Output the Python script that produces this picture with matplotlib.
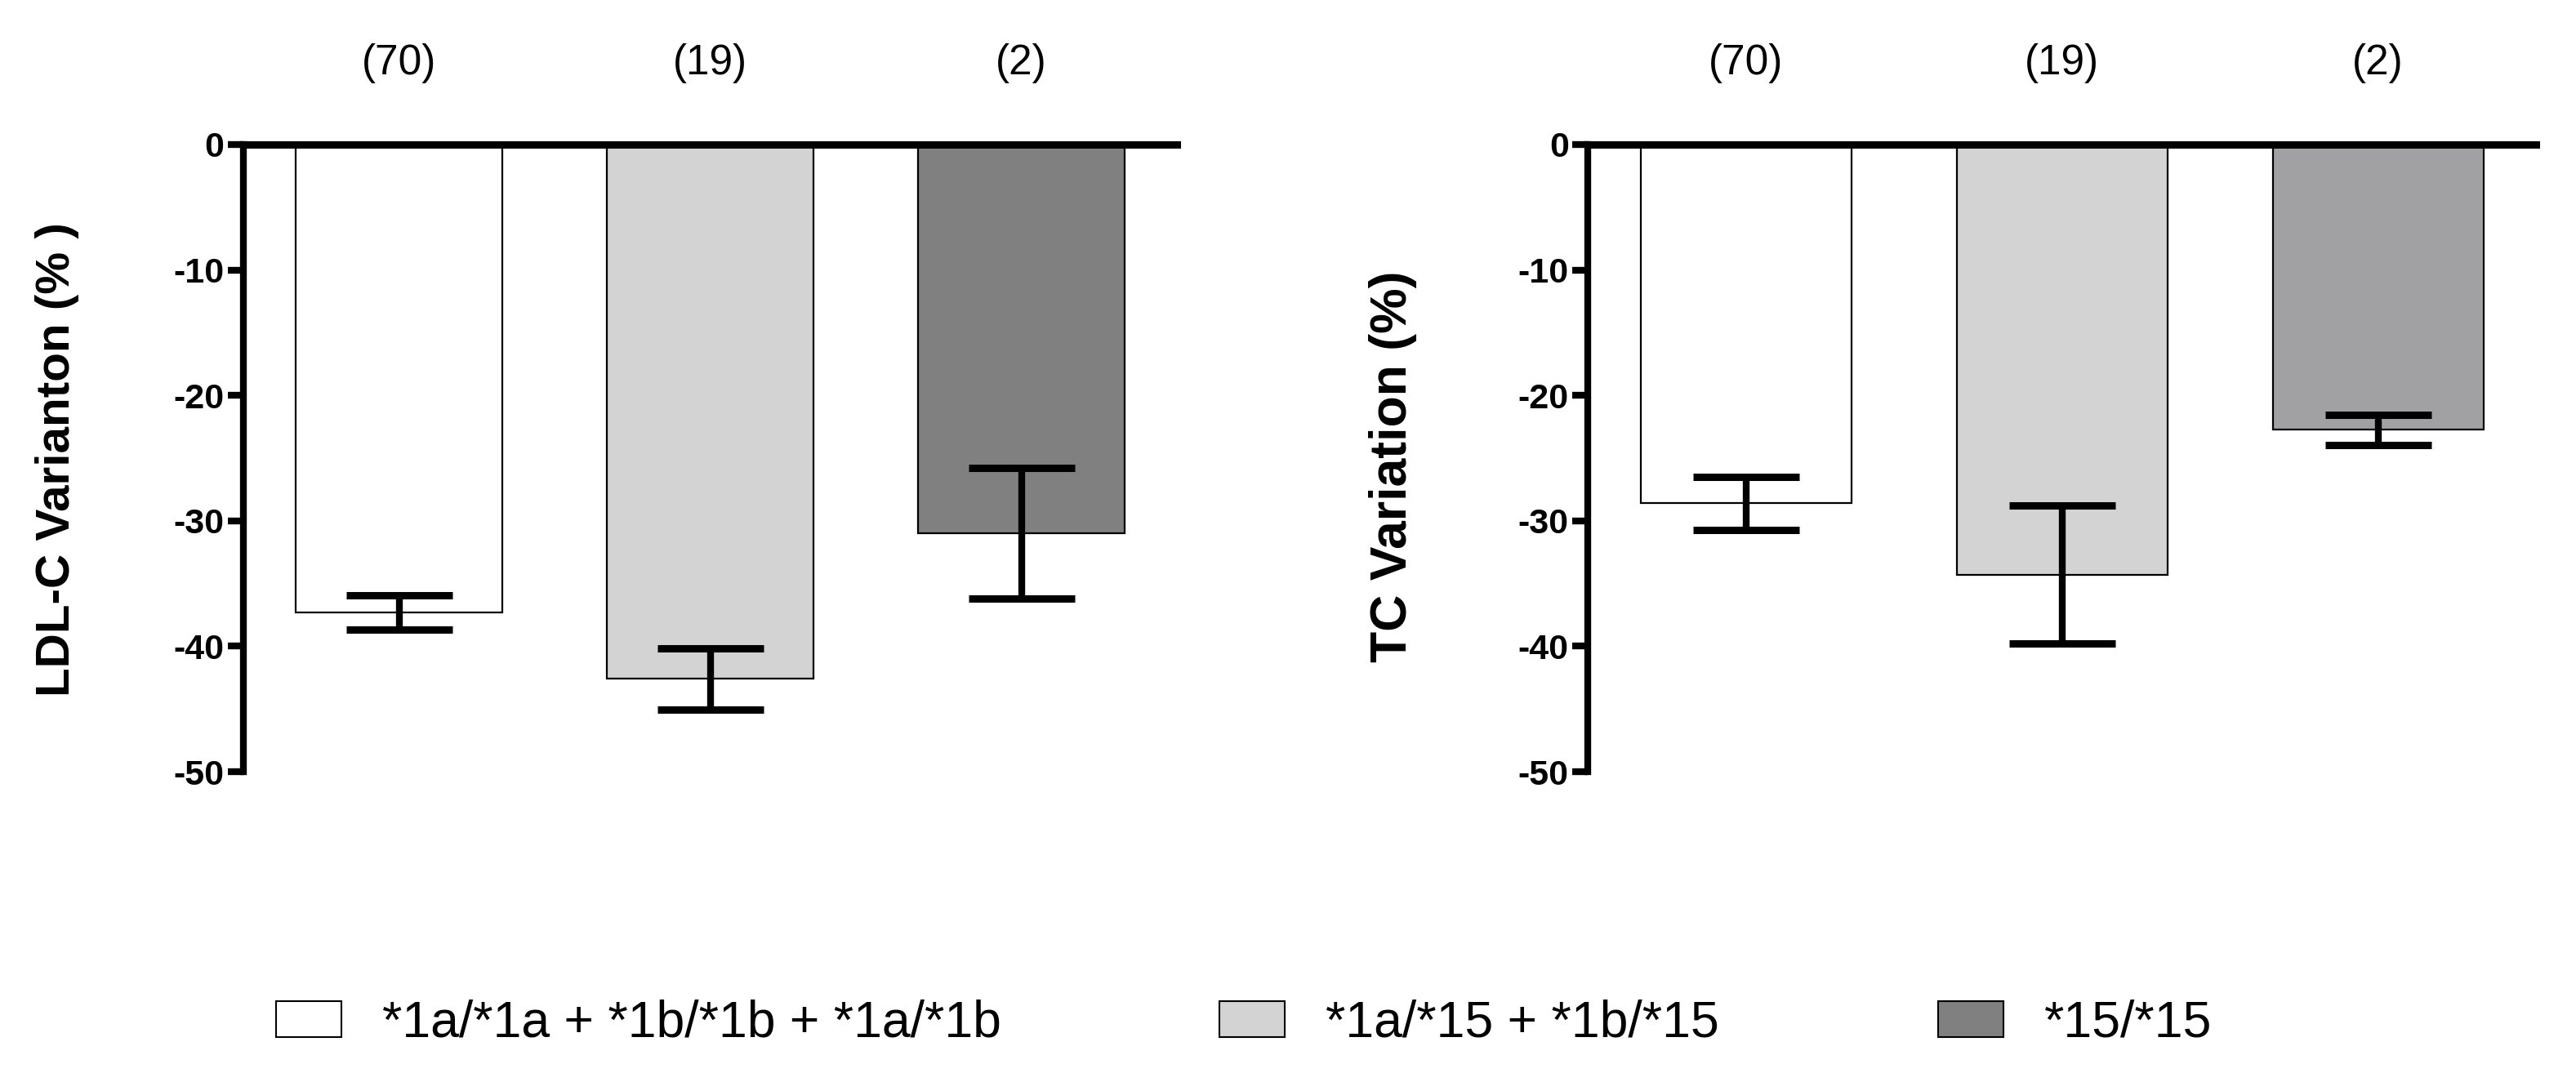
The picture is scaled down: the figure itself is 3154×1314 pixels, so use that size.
"""Bar charts of LDL-C and TC variation by genotype group."""

import matplotlib
matplotlib.use("Agg")
import matplotlib.pyplot as plt
from matplotlib.patches import Patch
from matplotlib.transforms import blended_transform_factory

groups = ["*1a/*1a + *1b/*1b + *1a/*1b", "*1a/*15 + *1b/*15", "*15/*15"]
n_labels = ["(70)", "(19)", "(2)"]

ldl_mean = [-37.3, -42.6, -31.0]
ldl_sem = [1.35, 2.45, 5.2]

tc_mean = [-28.6, -34.3, -22.75]
tc_sem = [2.1, 5.5, 1.2]

yticks = [0, -10, -20, -30, -40, -50]

left_colors = ["#ffffff", "#d3d3d3", "#808080"]
right_colors = ["#ffffff", "#d3d3d3", "#a1a1a4"]

plt.rcParams["font.family"] = ["Liberation Sans", "DejaVu Sans"]
plt.rcParams["axes.unicode_minus"] = False

fig = plt.figure(figsize=(31.54, 13.14), dpi=100)
ax_l = fig.add_axes([0.0945, 0.2808, 0.3624, 0.5845])
ax_r = fig.add_axes([0.6165, 0.2808, 0.3680, 0.5845])


def draw_panel(ax, means, sems, colors):
    x = list(range(len(means)))
    ax.bar(x, means, width=0.666, color=colors, edgecolor="black",
           linewidth=1.6, zorder=2)
    ax.errorbar(x, means, yerr=sems, fmt="none", ecolor="black",
                elinewidth=6, capsize=47, capthick=6.5, zorder=3)
    ax.set_xlim(-0.5, 2.5)
    ax.set_ylim(-50, 0)
    ax.set_xticks([])
    ax.set_yticks(yticks)
    ax.set_yticklabels([str(t) for t in yticks], fontweight="bold", fontsize=31)
    ax.tick_params(axis="y", length=14, width=6, pad=3)
    for side in ["right", "bottom"]:
        ax.spines[side].set_visible(False)
    ax.spines["left"].set_linewidth(6)
    ax.spines["top"].set_linewidth(6.5)
    ax.spines["top"].set_zorder(4)
    ax.spines["left"].set_zorder(4)
    trans = blended_transform_factory(ax.transData, fig.transFigure)
    for xi, lab in zip(x, n_labels):
        ax.text(xi, 0.9414, lab, transform=trans, ha="center", va="center",
                fontsize=37)


draw_panel(ax_l, ldl_mean, ldl_sem, left_colors)
draw_panel(ax_r, tc_mean, tc_sem, right_colors)

fig.text(0.0222, 0.5715, "LDL-C Varianton (% )", rotation=90, ha="center",
         va="center", fontsize=42, fontweight="bold")
fig.text(0.5409, 0.5654, "TC Variation (%)", rotation=90, ha="center",
         va="center", fontsize=45, fontweight="bold")

handles = [Patch(facecolor=c, edgecolor="black", linewidth=1.5) for c in left_colors]
fig.legend(handles, groups, loc="center left", bbox_to_anchor=(0.1072, 0.0464),
           ncol=3, frameon=False, fontsize=45, handlelength=1.28,
           handleheight=0.70, handletextpad=0.8, columnspacing=4.28,
           borderpad=0, borderaxespad=0)

fig.savefig("out.png", dpi=100)
